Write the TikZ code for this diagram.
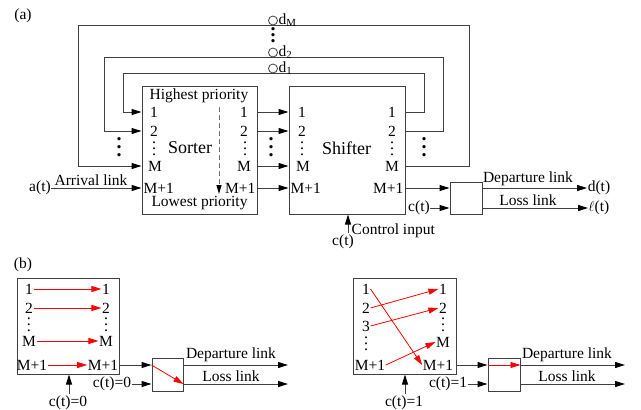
\documentclass[tikz,border=0pt]{standalone}
\usepackage{fontspec}
\setmainfont{Liberation Serif}
\usetikzlibrary{positioning, arrows.meta}

\newcommand{\vdotsgap}[1]{\vbox{\baselineskip=#1\lineskiplimit=0pt\hbox{.}\hbox{.}\hbox{.}}}

\tikzset{
  box/.style={draw=black!75, line width=1pt, inner sep=0pt},
  link/.style={draw=black!75, line width=1pt, -{Triangle[length=10pt,width=6pt,color=black]}},
  redlink/.style={red, line width=0.8pt, -{Triangle[length=10pt,width=6pt]}},
  lbl/.style={inner sep=0.5pt, font=\fontsize{15.5}{17}\selectfont},
  big/.style={inner sep=0.5pt, font=\fontsize{18}{20}\selectfont},
  vd/.style={inner sep=0pt, font=\fontsize{16}{17}\selectfont},
  bigvd/.style={inner sep=0pt, font=\fontsize{20}{22}\selectfont\bfseries},
  tap/.style={circle, draw=black!75, line width=0.8pt, minimum size=9pt, inner sep=0pt},
}

\begin{document}
\begin{tikzpicture}[x=1pt, y=-1pt]
  \useasboundingbox (0,0) rectangle (641,410);

  % (a)
  \node[lbl] (la) at (23,16) {(a)};
  \node[box, minimum width=115pt, minimum height=128pt] (sorter) at (199.5,150) {};
  \node[box, minimum width=116pt, minimum height=128pt] (shifter) at (347,150) {};
  \node[box, minimum size=32pt] (sw) at (466,198) {};
  \node[big] (sortername) at (190,148) {Sorter};
  \node[big] (shiftername) at (346.5,148) {Shifter};
  \node[lbl] (hp) at (199,96) {Highest priority};
  \node[lbl] (lp) at (199.5,203) {Lowest priority};

  \node[lbl] (sl1) at (154,112) {1};
  \node[lbl] (sl2) at (154,131) {2};
  \node[vd] (sl3) at (154,148.5) {\vdotsgap{6pt}};
  \node[lbl] (sl4) at (155,166) {M};
  \node[lbl, anchor=west] (sl5) at (143,188) {M+1};
  \node[lbl] (sr1) at (244,112) {1};
  \node[lbl] (sr2) at (244,131) {2};
  \node[vd] (sr3) at (245,148.5) {\vdotsgap{6pt}};
  \node[lbl] (sr4) at (244,166) {M};
  \node[lbl, anchor=east] (sr5) at (256,188) {M+1};

  \node[lbl] (hl1) at (302,112) {1};
  \node[lbl] (hl2) at (302,131) {2};
  \node[vd] (hl3) at (302,148.5) {\vdotsgap{6pt}};
  \node[lbl] (hl4) at (303,166) {M};
  \node[lbl, anchor=west] (hl5) at (290,188) {M+1};
  \node[lbl] (hr1) at (392,112) {1};
  \node[lbl] (hr2) at (392,131) {2};
  \node[vd] (hr3) at (392,148.5) {\vdotsgap{6pt}};
  \node[lbl] (hr4) at (392,166) {M};
  \node[lbl, anchor=east] (hr5) at (404,188) {M+1};

  \draw[link] (sorter.east |- sr1) -- (shifter.west |- hl1);
  \draw[link] (sorter.east |- sr2) -- (shifter.west |- hl2);
  \draw[link] (sorter.east |- sr4) -- (shifter.west |- hl4);
  \draw[link] (sorter.east |- sr5) -- (shifter.west |- hl5);
  \node[bigvd] (mid3) at (271,147) {\vdotsgap{8pt}};

  \coordinate (fb1r) at (424,73);
  \coordinate (fb1l) at (123,73);
  \coordinate (fb2r) at (443,57);
  \coordinate (fb2l) at (104,57);
  \coordinate (fbMr) at (469,25);
  \coordinate (fbMl) at (78,25);
  \draw[link] (shifter.east |- hr1) -| (fb1r) -- (fb1l) |- (sorter.west |- sl1);
  \draw[link] (shifter.east |- hr2) -| (fb2r) -- (fb2l) |- (sorter.west |- sl2);
  \draw[link] (shifter.east |- hr4) -| (fbMr) -- (fbMl) |- (sorter.west |- sl4);
  \node[bigvd] (left3) at (119,147) {\vdotsgap{8pt}};
  \node[bigvd] (right3) at (424,147) {\vdotsgap{8pt}};

  \node[tap] (t1) at (273,68.5) {};
  \node[tap] (t2) at (273,52.5) {};
  \node[tap] (tM) at (273,20.5) {};
  \node[lbl, anchor=west] (d1) at (t1.east) {d\textsubscript{1}};
  \node[lbl, anchor=west] (d2) at (t2.east) {d\textsubscript{2}};
  \node[lbl, anchor=west] (dM) at (tM.east) {d\textsubscript{M}};
  \node[bigvd] (tdots) at (273,35) {\vdotsgap{6pt}};

  \coordinate (prtop) at (219,107);
  \coordinate (prbot) at (219,194);
  \draw[dashed, black!55, line width=0.9pt, dash pattern=on 5pt off 3pt, -{Triangle[length=9pt,width=5pt,color=black]}] (prtop) -- (prbot);

  \node[lbl] (at) at (40,188) {a(t)};
  \draw[link] (at) -- (sorter.west |- sl5);
  \node[lbl] (arr) at (91,180) {Arrival link};

  \draw[link] (shifter.east |- hr5) -- (sw.west |- hr5);
  \node[lbl] (ct) at (419,208) {c(t)};
  \draw[link] (ct) -- (sw.west |- ct);
  \node[lbl] (dt) at (599,188) {d(t)};
  \node[lbl] (lt) at (599,208) {$\ell$(t)};
  \draw[link] (sw.east |- dt) -- (dt);
  \draw[link] (sw.east |- lt) -- (lt);
  \node[lbl] (dep) at (528,179) {Departure link};
  \node[lbl] (loss) at (528,200) {Loss link};

  \node[lbl] (ctc) at (343,242) {c(t)};
  \coordinate (ctrl) at (348,233);
  \draw[link] (ctrl) -- (ctrl |- shifter.south);
  \node[lbl, anchor=west] (ctin) at (351,231) {Control input};

  % (b), c(t)=0
  \node[lbl] (lb) at (23,265) {(b)};
  \node[box, minimum width=102pt, minimum height=96pt] (b0) at (68,326) {};
  \node[lbl] (a1) at (29,289) {1};
  \node[lbl] (a2) at (29,308) {2};
  \node[vd] (a3) at (29,324.5) {\vdotsgap{6pt}};
  \node[lbl] (a4) at (29,341) {M};
  \node[lbl] (a5) at (32,365) {M+1};
  \node[lbl] (b1) at (106,289) {1};
  \node[lbl] (b2) at (106,308) {2};
  \node[vd] (b3) at (106,324.5) {\vdotsgap{6pt}};
  \node[lbl] (b4) at (106,341) {M};
  \node[lbl] (b5) at (103,365) {M+1};
  \draw[redlink] (a1) -- (b1);
  \draw[redlink] (a2) -- (b2);
  \draw[redlink] (a4) -- (b4);
  \draw[redlink] (a5) -- (b5);

  \node[box, minimum width=31pt, minimum height=33pt] (sw0) at (167.5,374.5) {};
  \draw[link] (b0.east |- b5) -- (sw0.west |- b5);
  \node[lbl] (ct0) at (112,384) {c(t)=0};
  \draw[link] (ct0) -- (sw0.west |- ct0);
  \draw[redlink] (sw0.west |- b5) -- (sw0.east |- ct0);
  \coordinate (dep0) at (288,365);
  \coordinate (loss0) at (288,384);
  \draw[link] (sw0.east |- dep0) -- (dep0);
  \draw[link] (sw0.east |- loss0) -- (loss0);
  \node[lbl] (dep0l) at (231,355) {Departure link};
  \node[lbl] (loss0l) at (231,376) {Loss link};
  \node[lbl] (cb0) at (68,403) {c(t)=0};
  \coordinate (ctrl0) at (69,394);
  \draw[link] (ctrl0) -- (ctrl0 |- b0.south);

  % (b), c(t)=1
  \node[box, minimum width=103pt, minimum height=96pt] (b1box) at (404.5,326) {};
  \node[lbl] (c1) at (366,289) {1};
  \node[lbl] (c2) at (366,308) {2};
  \node[lbl] (c3) at (366,326) {3};
  \node[vd] (c4) at (366,344) {\vdotsgap{6pt}};
  \node[lbl] (c5) at (370,365) {M+1};
  \node[lbl] (e1) at (443,289) {1};
  \node[lbl] (e2) at (443,308) {2};
  \node[vd] (e3) at (443,324.5) {\vdotsgap{6pt}};
  \node[lbl] (e4) at (443,342) {M};
  \node[lbl] (e5) at (438,365) {M+1};
  \draw[redlink] (c1.east) -- (e5.west);
  \draw[redlink] (c2.east) -- (e1.west);
  \draw[redlink] (c3.east) -- (e2.west);
  \draw[redlink] (c5.east) -- (e4.west);

  \node[box, minimum width=32pt, minimum height=33pt] (sw1) at (504,374.5) {};
  \draw[link] (b1box.east |- e5) -- (sw1.west |- e5);
  \node[lbl] (ct1) at (448,384) {c(t)=1};
  \draw[link] (ct1) -- (sw1.west |- ct1);
  \draw[redlink] (sw1.west |- e5) -- (sw1.east |- e5);
  \coordinate (dep1) at (625,365);
  \coordinate (loss1) at (625,384);
  \draw[link] (sw1.east |- dep1) -- (dep1);
  \draw[link] (sw1.east |- loss1) -- (loss1);
  \node[lbl] (dep1l) at (567,355) {Departure link};
  \node[lbl] (loss1l) at (567,376) {Loss link};
  \node[lbl] (cb1) at (404,403) {c(t)=1};
  \coordinate (ctrl1) at (405,394);
  \draw[link] (ctrl1) -- (ctrl1 |- b1box.south);
\end{tikzpicture}
\end{document}
